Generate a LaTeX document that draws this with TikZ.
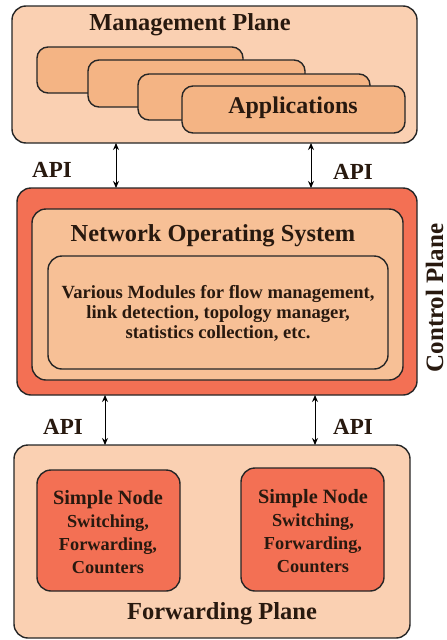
\documentclass[tikz,border=0pt]{standalone}
\usepackage{fontspec}
\setmainfont{Liberation Serif}
\usetikzlibrary{arrows.meta}
\definecolor{peach}{RGB}{250,208,178}
\definecolor{appor}{RGB}{244,180,132}
\definecolor{redor}{RGB}{243,112,84}
\definecolor{nosor}{RGB}{247,192,150}
\definecolor{txt}{RGB}{40,25,15}
\begin{document}
\begin{tikzpicture}[x=1pt,y=-1pt,
  box/.style={draw=black!85,line width=1.4pt,rounded corners=14pt},
  lbl/.style={text=txt,font=\bfseries,align=center,inner sep=0pt},
  api/.style={{Stealth[length=7pt,width=6pt]}-{Stealth[length=7pt,width=6pt]},line width=1pt,black}]
\useasboundingbox (0,0) rectangle (447,640);
\fill[white] (0,0) rectangle (447,640);
% Management plane
\draw[box,fill=peach] (12,6) rectangle (417,143);
\coordinate (mpb1) at (116,143);
\coordinate (mpb2) at (311,143);
\node[lbl,font=\bfseries\fontsize{24.4}{28}\selectfont] (mp) at (190,25) {Management Plane};
\draw[box,fill=appor,rounded corners=11pt] (37,47) rectangle (243,93);
\draw[box,fill=appor,rounded corners=11pt] (88,60) rectangle (305,107);
\draw[box,fill=appor,rounded corners=11pt] (138,74) rectangle (370,120);
\draw[box,fill=appor,rounded corners=11pt] (182,86) rectangle (405,133);
\node[lbl,font=\bfseries\fontsize{24}{28}\selectfont] (app) at (293,108) {Applications};
% Control plane
\draw[box,fill=redor] (17,188) rectangle (417,395);
\draw[box,fill=nosor] (32,209) rectangle (403,380);
\node[lbl,font=\bfseries\fontsize{24.4}{28}\selectfont] (nos) at (213,236) {Network Operating System};
\draw[box,fill=nosor] (48,256) rectangle (388,369);
\node[lbl,font=\bfseries\fontsize{18.6}{20}\selectfont] (mods) at (218,313)
  {Various Modules for flow management,\\link detection, topology manager,\\statistics collection, etc.};
\node[lbl,rotate=90,anchor=base,font=\bfseries\fontsize{25}{28}\selectfont] (cp) at (443,298) {Control Plane};
\coordinate (ct1) at (116,188);
\coordinate (ct2) at (311,188);
\coordinate (cb1) at (105,395);
\coordinate (cb2) at (315,395);
% Forwarding plane
\draw[box,fill=peach] (14,445) rectangle (410,638);
\coordinate (ft1) at (105,445);
\coordinate (ft2) at (315,445);
\draw[box,fill=redor] (37,470) rectangle (180,591);
\draw[box,fill=redor] (241,468) rectangle (384,591);
\node[lbl,font=\bfseries\fontsize{20.3}{23}\selectfont] (sn1) at (108,532)
  {Simple Node\\{\fontsize{18.3}{23}\selectfont Switching,}\\{\fontsize{18.3}{23}\selectfont Forwarding,}\\{\fontsize{18.3}{23}\selectfont Counters}};
\node[lbl,font=\bfseries\fontsize{20.3}{23}\selectfont] (sn2) at (313,531)
  {Simple Node\\{\fontsize{18.3}{23}\selectfont Switching,}\\{\fontsize{18.3}{23}\selectfont Forwarding,}\\{\fontsize{18.3}{23}\selectfont Counters}};
\node[lbl,font=\bfseries\fontsize{24.5}{28}\selectfont] (fp) at (222,614) {Forwarding Plane};
% API arrows
\draw[api] (mpb1) -- (ct1);
\draw[api] (mpb2) -- (ct2);
\draw[api] (cb1) -- (ft1);
\draw[api] (cb2) -- (ft2);
\node[lbl,font=\bfseries\fontsize{23}{26}\selectfont] (a1) at (52,170) {API};
\node[lbl,font=\bfseries\fontsize{23}{26}\selectfont] (a2) at (353,172) {API};
\node[lbl,font=\bfseries\fontsize{23}{26}\selectfont] (a3) at (63,427) {API};
\node[lbl,font=\bfseries\fontsize{23}{26}\selectfont] (a4) at (353,427) {API};
\end{tikzpicture}
\end{document}
